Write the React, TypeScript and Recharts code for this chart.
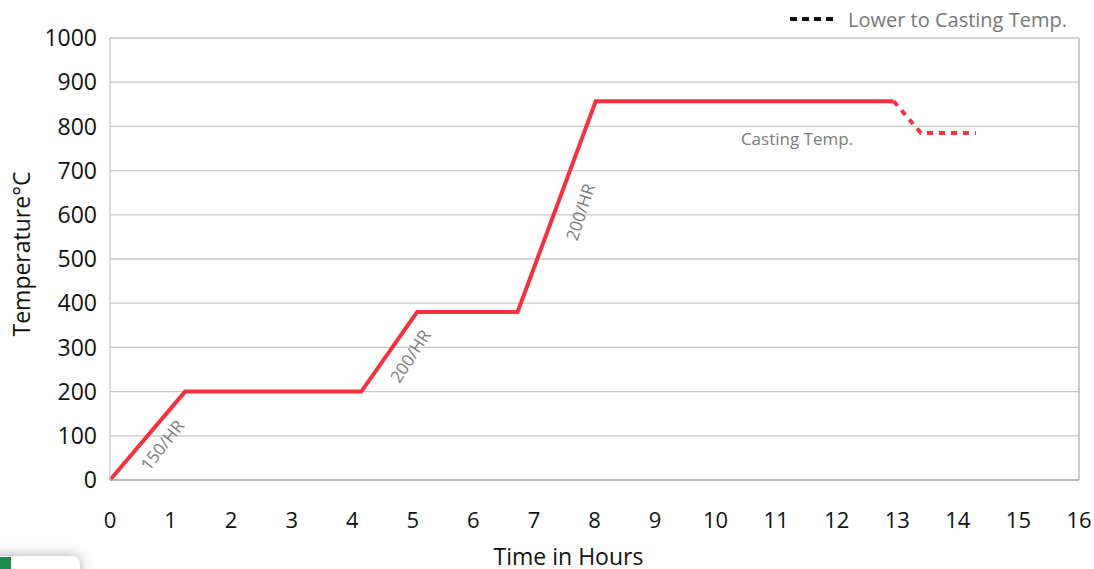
import { LineChart, Line, XAxis, YAxis, CartesianGrid, Label, ReferenceLine } from 'recharts';

// firing schedule
const hours = [0, 1.24, 4.15, 5.07, 6.73, 8.02, 12.94, 13.39, 14.3];
const rampTemp = [0, 200, 200, 380, 380, 857, 857, null, null];
const lowerTemp = [null, null, null, null, null, null, 857, 785, 785];
const xTicks = [0, 1, 2, 3, 4, 5, 6, 7, 8, 9, 10, 11, 12, 13, 14, 15, 16];
const yTicks = [0, 100, 200, 300, 400, 500, 600, 700, 800, 900, 1000];

const data = hours.map((t, i) => ({ t, ramp: rampTemp[i], lower: lowerTemp[i] }));

const RED = '#f2333f';
const FONT = '"Open Sans", sans-serif';

const note = (text: string, x: number, y: number, angle: number) => (
  <div
    style={{
      position: 'absolute',
      left: x,
      top: y,
      transform: `translate(-50%, -50%) rotate(${angle}deg)`,
      fontFamily: FONT,
      fontSize: 17,
      color: '#7a7a7a',
      whiteSpace: 'nowrap',
    }}
  >
    {text}
  </div>
);

export default function App() {
  return (
    <div style={{ position: 'absolute', left: 0, top: 0, width: 1094, height: 569, background: '#fff', overflow: 'hidden' }}>
      <LineChart width={1094} height={569} data={data} margin={{ top: 38, right: 15, bottom: 0, left: 0 }}>
        <CartesianGrid vertical={false} stroke="#c8c8c8" strokeWidth={1.3} />
        <XAxis
          dataKey="t"
          type="number"
          domain={[0, 16]}
          ticks={xTicks}
          interval={0}
          height={89}
          tickLine={false}
          tickSize={0}
          tickMargin={32}
          axisLine={{ stroke: '#b0b0b0', strokeWidth: 1.3 }}
          tick={{ fill: '#111', fontSize: 22, fontFamily: FONT }}
        >
          <Label value="Time in Hours" position="insideBottom" offset={4} dx={-26} style={{ fill: '#111', fontSize: 23, fontFamily: FONT }} />
        </XAxis>
        <YAxis
          type="number"
          domain={[0, 1000]}
          ticks={yTicks}
          interval={0}
          width={110}
          tickLine={false}
          tickSize={0}
          tickMargin={13}
          axisLine={{ stroke: '#c8c8c8', strokeWidth: 1.3 }}
          tick={{ fill: '#111', fontSize: 23, fontFamily: FONT }}
        >
          <Label
            value="Temperature°C"
            angle={-90}
            position="insideLeft"
            offset={22}
            dy={-5}
            style={{ fill: '#111', fontSize: 23, fontFamily: FONT, textAnchor: 'middle' }}
          />
        </YAxis>
        <ReferenceLine x={16} stroke="#b0b0b0" strokeWidth={1.3} />
        <Line type="linear" dataKey="ramp" stroke={RED} strokeWidth={4} dot={false} isAnimationActive={false} />
        <Line
          type="linear"
          dataKey="lower"
          stroke={RED}
          strokeWidth={4}
          strokeDasharray="6 6"
          dot={false}
          isAnimationActive={false}
        />
      </LineChart>

      {note('150/HR', 162, 445, -52)}
      {note('200/HR', 410, 356, -57)}
      {note('200/HR', 580, 212, -72)}
      {note('Casting Temp.', 797, 138, 0)}

      <div style={{ position: 'absolute', left: 789, top: 4, display: 'flex', alignItems: 'center', fontFamily: FONT, fontSize: 20, color: '#777' }}>
        <svg width={48} height={30}>
          <line x1={1} y1={15} x2={47} y2={15} stroke="#111" strokeWidth={4} strokeDasharray="7 5" />
        </svg>
        <span style={{ marginLeft: 11 }}>Lower to Casting Temp.</span>
      </div>

      <div style={{ position: 'absolute', left: -10, top: 556, width: 90, height: 30, borderRadius: 8, background: '#fff', boxShadow: '0 0 14px rgba(0,0,0,0.35)' }} />
      <div style={{ position: 'absolute', left: 0, top: 557, width: 11, height: 12, background: '#1f8a4c' }} />
    </div>
  );
}
